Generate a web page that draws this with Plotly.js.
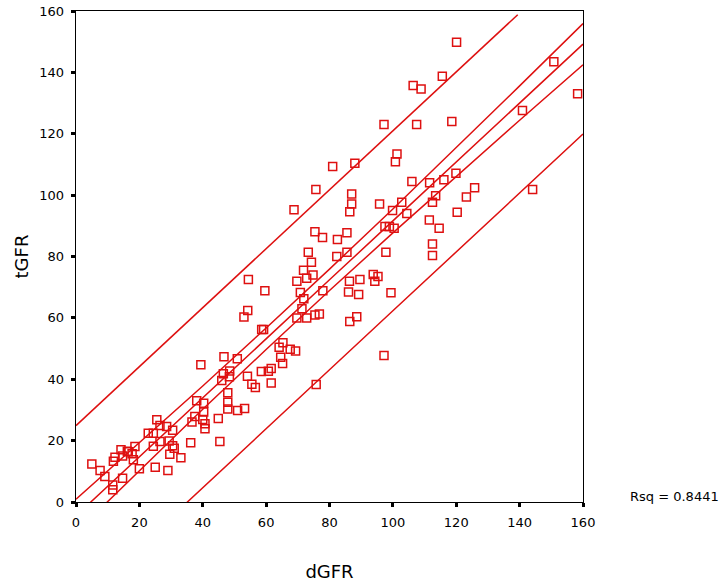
<!DOCTYPE html>
<html>
<head>
<meta charset="utf-8">
<script src="https://cdn.plot.ly/plotly-3.0.1.min.js"></script>
<style>
  html, body { margin: 0; padding: 0; background: #fff; }
  #chart { width: 724px; height: 585px; }
</style>
</head>
<body>
<div id="chart"></div>
<script>
// Observed data points (dGFR, tGFR)
const dGFR = [
  5.0, 7.6, 9.1, 11.6, 11.6, 11.8, 12.3, 14.2, 14.7, 14.7,
  16.2, 17.7, 18.6, 18.1, 20.0, 22.8, 24.4, 24.4, 25.0, 25.5,
  26.5, 26.5, 28.6, 29.0, 29.4, 29.6, 30.5, 30.5, 31.0, 33.1,
  36.2, 36.6, 37.5, 38.1, 40.3, 40.3, 40.0, 40.7, 40.7, 44.9,
  45.4, 47.9, 47.9, 47.9, 51.0, 53.2, 39.4, 46.7, 50.9, 46.5,
  48.5, 46.0, 48.4, 54.1, 55.5, 56.6, 58.5, 60.7, 61.6, 61.6,
  54.2, 53.0, 58.6, 59.2, 54.4, 59.6, 64.1, 65.3, 67.6, 69.3,
  64.6, 65.2, 75.8, 69.7, 72.8, 71.3, 71.9, 70.8, 69.7, 72.8,
  71.8, 74.8, 74.3, 75.4, 76.8, 77.9, 82.3, 73.3, 75.4, 77.8,
  82.5, 85.5, 85.5, 68.8, 75.7, 87.0, 87.0, 86.4, 95.8, 81.0,
  88.0, 86.3, 89.6, 86.0, 89.2, 86.4, 88.6, 93.8, 95.3, 94.3,
  99.4, 97.8, 97.5, 98.9, 100.4, 97.2, 99.9, 102.8, 104.4, 111.5,
  114.6, 112.5, 112.5, 112.5, 113.5, 106.0, 111.6, 116.1, 119.9, 120.3,
  123.2, 125.8, 101.3, 100.8, 97.2, 107.5, 118.6, 106.4, 108.9, 115.6,
  120.1, 140.9, 144.1, 150.8, 158.3, 16.5
];
const tGFR = [
  12.4, 10.3, 8.3, 5.5, 4.0, 13.3, 14.6, 17.0, 15.0, 7.7,
  16.5, 15.7, 18.1, 13.8, 10.8, 22.4, 22.4, 18.2, 11.3, 26.8,
  24.9, 19.7, 24.6, 10.3, 19.9, 15.6, 23.4, 18.3, 17.5, 14.4,
  19.3, 26.1, 27.9, 33.0, 32.2, 29.3, 26.9, 25.5, 23.9, 27.2,
  19.7, 35.6, 32.5, 30.3, 29.8, 30.5, 44.7, 47.3, 46.7, 41.8,
  42.7, 39.6, 40.8, 41.0, 38.4, 37.3, 42.5, 42.6, 43.5, 38.8,
  62.4, 60.3, 56.2, 56.2, 72.5, 68.8, 50.4, 51.9, 49.8, 49.2,
  47.2, 45.1, 38.3, 60.0, 60.0, 63.0, 66.2, 68.3, 71.9, 72.9,
  75.5, 74.0, 78.1, 60.9, 61.3, 68.8, 80.0, 81.4, 88.1, 86.2,
  85.5, 87.7, 81.4, 95.2, 101.8, 100.4, 97.1, 94.6, 97.1, 109.3,
  110.4, 71.9, 72.5, 68.4, 67.6, 58.8, 60.4, 74.1, 73.5, 71.9,
  68.2, 81.4, 89.8, 89.8, 89.2, 47.7, 95.0, 97.7, 94.0, 91.9,
  89.2, 84.1, 80.3, 97.7, 99.8, 104.4, 104.0, 105.0, 107.1, 94.4,
  99.4, 102.4, 113.4, 110.9, 123.0, 123.0, 124.0, 135.7, 134.6, 138.7,
  149.8, 127.6, 101.8, 143.5, 133.0, 16.4
];

// Fit lines (linear fit, 95% mean CI, 95% individual PI)
const fitX      = [0, 20, 40, 60, 80, 100, 120, 140, 160];
const fitMean   = [-4.5, 14.8, 34.0, 53.2, 72.4, 91.6, 110.8, 130.0, 149.2];
const ciUpper   = [0.9, 19.3, 37.8, 56.7, 75.9, 95.5, 115.4, 135.6, 155.9];
const ciLower   = [-9.9, 10.3, 30.2, 49.7, 68.9, 87.7, 106.2, 124.4, 142.5];
const piUpperX  = [0, 20, 40, 60, 80, 100, 120, 139.4];
const piUpper   = [24.9, 44.1, 63.3, 82.5, 101.7, 120.9, 140.1, 158.8];
const piLower   = [-33.8, -14.5, 4.7, 23.9, 43.1, 62.3, 81.5, 100.7, 119.9];

const xTicks = [0, 20, 40, 60, 80, 100, 120, 140, 160];
const yTicks = [0, 20, 40, 60, 80, 100, 120, 140, 160];
const rsqText = 'Rsq = 0.8441';

const RED = 'rgb(222,16,16)';
const FONT = 'DejaVu Sans, Verdana, sans-serif';

function lineTrace(x, y) {
  return { x: x, y: y, type: 'scatter', mode: 'lines',
           line: { color: RED, width: 1.5 }, hoverinfo: 'skip', showlegend: false };
}

const traces = [
  lineTrace(piUpperX, piUpper), lineTrace(fitX, ciUpper), lineTrace(fitX, fitMean),
  lineTrace(fitX, ciLower), lineTrace(fitX, piLower),
  { x: dGFR, y: tGFR, type: 'scatter', mode: 'markers', showlegend: false,
    marker: { symbol: 'square-open', size: 8, color: RED, line: { color: RED, width: 1.5 } } }
];

const axisCommon = {
  range: [0, 160], showgrid: false, zeroline: false,
  showline: true, mirror: true, linecolor: '#000', linewidth: 1.3,
  ticks: 'outside', ticklen: 4, tickwidth: 3, tickcolor: '#000',
  tickfont: { family: FONT, size: 13, color: '#000' }
};

const layout = {
  width: 724, height: 585,
  margin: { l: 76, r: 141, t: 11, b: 83 },
  paper_bgcolor: '#fff', plot_bgcolor: '#fff',
  showlegend: false,
  xaxis: Object.assign({}, axisCommon, {
    tickvals: xTicks, ticktext: xTicks.map(String), ticklabelstandoff: 4,
    title: { text: 'dGFR', font: { family: FONT, size: 18, color: '#000' }, standoff: 36 }
  }),
  yaxis: Object.assign({}, axisCommon, {
    tickvals: yTicks, ticktext: yTicks.map(String), ticklabelstandoff: 4,
    title: { text: 'tGFR', font: { family: FONT, size: 18, color: '#000' }, standoff: 6 }
  }),
  annotations: [{
    text: rsqText, xref: 'paper', yref: 'paper', x: (628 - 76) / 507, y: (502 - 496) / 491,
    xanchor: 'left', yanchor: 'middle', showarrow: false,
    font: { family: FONT, size: 13, color: '#000' }
  }]
};

Plotly.newPlot('chart', traces, layout, { displayModeBar: false, staticPlot: true });
</script>
</body>
</html>
